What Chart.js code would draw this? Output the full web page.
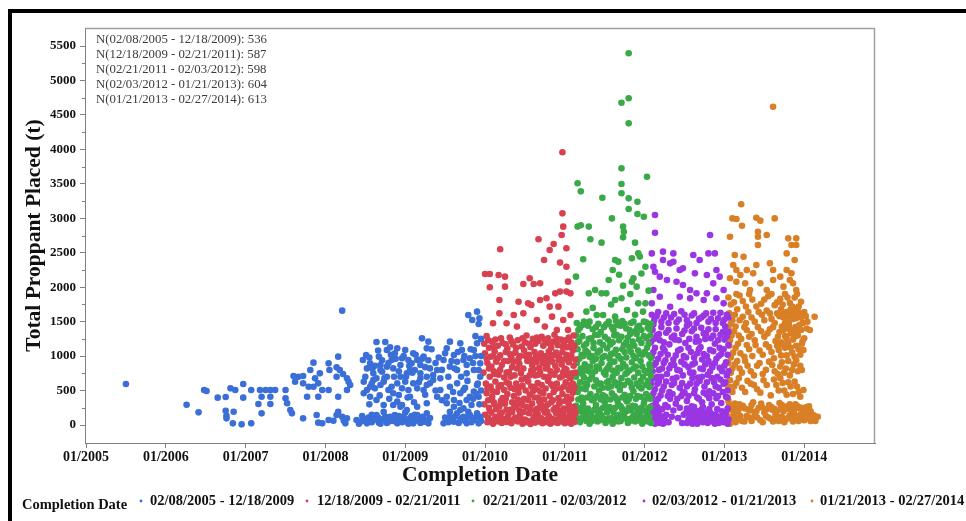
<!DOCTYPE html>
<html>
<head>
<meta charset="utf-8">
<title>Total Proppant Placed by Completion Date</title>
<script src="https://cdn.jsdelivr.net/npm/chart.js@4.4.1/dist/chart.umd.min.js"></script>
<style>
  html, body { margin: 0; padding: 0; background: #ffffff; }
  #wrap { position: relative; width: 966px; height: 521px; }
  canvas { display: block; }
</style>
</head>
<body>
<div id="wrap"><canvas id="chart" width="966" height="521"></canvas></div>
<script>
// Completion periods and well counts per period
const periodLabels = [
  '02/08/2005 - 12/18/2009',
  '12/18/2009 - 02/21/2011',
  '02/21/2011 - 02/03/2012',
  '02/03/2012 - 01/21/2013',
  '01/21/2013 - 02/27/2014'
];
const wellCounts = [536, 587, 598, 604, 613];
const periodColors = ['#3b6fd8', '#d8414f', '#3aa948', '#9a35e3', '#d97f26'];

// Axis ticks
const yearTicks = [2005, 2006, 2007, 2008, 2009, 2010, 2011, 2012, 2013, 2014];
const proppantTicks = [0, 500, 1000, 1500, 2000, 2500, 3000, 3500, 4000, 4500, 5000, 5500];

// [completion date as decimal year, total proppant placed (t)]
const wells2005to2009 = [
  [2005.50,595],[2006.26,295],[2006.41,184],[2006.48,508],[2006.51,493],[2006.65,397],[2006.75,406],
  [2006.75,208],[2006.76,135],[2006.76,97],[2006.84,24],[2006.95,10],[2007.07,24],[2006.85,193],
  [2006.81,532],[2006.87,508],[2006.97,595],[2006.97,397],[2007.07,508],[2007.18,508],[2007.25,508],
  [2007.31,508],[2007.37,508],[2007.20,411],[2007.31,411],[2007.16,305],[2007.31,305],[2007.20,169],
  [2007.50,508],[2007.50,387],[2007.52,315],[2007.56,218],[2007.58,169],[2007.60,711],[2007.66,701],
  [2007.72,711],[2007.62,629],[2007.72,605],[2007.81,798],[2007.85,905],[2007.79,556],[2007.85,556],
  [2007.77,411],[2007.87,677],[2007.93,750],[2007.91,605],[2007.96,508],[2008.04,895],[2008.05,798],
  [2008.14,837],[2008.16,992],[2008.18,798],[2008.14,701],[2008.22,740],[2008.27,677],[2008.29,629],
  [2008.31,580],[2007.91,411],[2008.04,508],[2008.16,411],[2008.27,508],[2007.72,97],[2007.89,145],
  [2007.91,34],[2007.96,24],[2008.04,72],[2008.10,63],[2008.14,145],[2008.16,193],[2008.21,121],
  [2008.23,63],[2008.25,24],[2008.27,97],[2008.21,1660],
  [2008.47,944],[2008.51,1016],[2008.56,895],[2008.59,822],[2008.64,1205],[2008.67,992],[2008.69,871],
  [2008.60,750],[2008.64,677],[2008.71,774],[2008.75,1205],[2008.77,1088],[2008.81,1127],[2008.83,944],
  [2008.87,1040],[2008.90,1113],[2008.94,871],[2008.96,968],[2009.00,1088],[2009.04,944],[2009.06,798],
  [2009.08,895],[2009.10,1040],[2009.15,944],[2009.19,871],[2009.21,1258],[2009.23,992],[2009.27,1113],
  [2009.29,1210],[2009.31,822],[2009.35,726],[2009.40,798],[2009.44,677],[2009.48,944],[2009.52,1113],
  [2009.56,1210],[2009.61,1016],[2009.65,919],[2009.69,1185],[2009.71,1088],[2009.73,944],[2009.77,871],
  [2009.81,968],[2009.86,1088],[2009.90,1185],[2009.92,798],[2009.94,895],[2009.94,701],
  [2008.48,629],[2008.52,508],[2008.56,556],[2008.60,653],[2008.62,532],[2008.69,580],[2008.73,629],
  [2008.77,701],[2008.79,508],[2008.83,556],[2008.85,460],[2008.90,605],[2008.92,435],[2008.96,532],
  [2009.00,629],[2009.04,508],[2009.06,411],[2009.10,605],[2009.15,532],[2009.19,677],[2009.23,508],
  [2009.27,580],[2009.31,605],[2009.40,411],[2009.44,508],[2009.52,411],[2009.56,556],[2009.61,363],
  [2009.65,605],[2009.69,460],[2009.73,508],[2009.77,363],[2009.81,411],[2009.86,484],[2009.90,580],
  [2009.92,411],[2008.48,460],[2008.56,411],[2008.64,363],[2008.73,290],[2008.85,290],[2008.94,266],
  [2009.02,218],[2009.15,266],[2009.27,315],[2009.52,315],[2009.61,266],[2009.73,242],[2009.83,290],
  [2008.52,822],[2008.69,798],[2008.77,847],[2008.85,822],[2008.94,701],[2009.02,750],[2009.12,798],
  [2009.19,750],[2009.27,701],[2009.35,653],[2009.56,847],[2009.65,798],[2009.77,750],[2009.86,798],
  [2008.39,72],[2008.44,48],[2008.48,82],[2008.52,24],[2008.56,63],[2008.60,97],[2008.64,145],
  [2008.67,34],[2008.71,72],[2008.75,121],[2008.79,48],[2008.83,97],[2008.87,145],[2008.90,24],
  [2008.94,72],[2008.96,290],[2008.98,121],[2009.02,48],[2009.06,97],[2009.10,24],[2009.15,145],
  [2009.17,72],[2009.21,121],[2009.25,48],[2009.27,169],[2009.29,24],[2009.48,24],[2009.52,72],
  [2009.56,121],[2009.61,48],[2009.65,169],[2009.69,72],[2009.73,121],[2009.77,24],[2009.81,145],
  [2009.86,72],[2009.90,169],[2009.94,121],[2009.92,24],[2009.56,193],[2009.69,218],[2009.79,193],
  [2008.58,150],[2008.73,190],[2008.88,60],[2009.00,180],[2009.12,150],[2009.20,40],
  [2009.79,1597],[2009.90,1645],[2009.93,1549],[2009.92,1466],[2009.84,1525],[2009.88,1290],[2009.95,1250],
  [2008.42,20],[2008.46,130],[2008.50,60],[2008.54,110],[2008.58,40],[2008.62,80],[2008.66,110],
  [2008.69,20],[2008.73,90],[2008.77,30],[2008.81,120],[2008.85,60],[2008.89,90],[2008.92,130],
  [2008.96,40],[2009.00,80],[2009.04,20],[2009.08,130],[2009.12,60],[2009.14,100],[2009.19,30],
  [2009.23,90],[2009.27,60],[2009.31,100],[2009.50,110],[2009.54,40],[2009.58,90],[2009.63,130],
  [2009.67,30],[2009.71,100],[2009.75,60],[2009.79,120],[2009.83,40],[2009.88,110],[2009.95,60],
  [2008.50,700],[2008.55,980],[2008.58,600],[2008.62,860],[2008.66,1080],[2008.71,940],[2008.74,680],
  [2008.79,900],[2008.82,1020],[2008.86,700],[2008.88,960],[2008.92,780],[2008.98,1000],[2009.01,700],
  [2009.05,860],[2009.09,760],[2009.13,1020],[2009.17,620],[2009.21,960],[2009.25,840],[2009.29,940],
  [2009.33,1100],[2009.38,900],[2009.42,980],[2009.46,800],[2009.50,1040],[2009.54,700],[2009.58,930],
  [2009.62,820],[2009.66,1060],[2009.70,700],[2009.74,1000],[2009.78,640],[2009.82,1100],[2009.85,900],
  [2009.88,1000],[2009.91,600],[2009.95,1000],[2009.95,500],[2009.89,450],
  [2008.55,300],[2008.68,430],[2008.80,380],[2008.90,340],[2009.03,400],[2009.11,330],[2009.25,440],
  [2009.38,500],[2009.46,360],[2009.60,480],[2009.68,320],[2009.75,540],[2009.85,380],[2009.93,300]
];

const wells2010 = [
  [2010.97,3958],[2010.97,3072],[2010.98,2879],[2010.96,2758],[2010.67,2695],[2010.81,2540],[2010.86,2628],
  [2011.02,2565],[2010.74,2395],[2010.94,2357],[2011.02,2298],[2010.00,2192],[2010.06,2192],[2010.17,2177],
  [2010.25,2153],[2010.06,2000],[2010.25,2008],[2010.18,1815],[2010.18,1621],[2010.56,2129],[2010.48,2047],
  [2010.61,2047],[2010.69,2057],[2010.54,1766],[2010.58,1742],[2010.69,1815],[2010.77,1839],[2010.88,1911],
  [2010.94,1936],[2011.02,1936],[2011.07,1911],[2011.04,2081],[2010.81,1718],[2010.92,1718],[2010.42,1790],
  [2010.36,1597],[2010.48,1621],[2010.27,1476],[2010.10,1476],[2010.40,1428],[2010.65,1524],[2010.84,1573],
  [2010.98,1524],[2011.07,1597],[2010.75,1428],[2010.90,1379],[2011.04,1379],[2010.19,2550],
  [2010.02,1290],[2010.13,1240],[2010.31,1270],[2010.52,1300],[2010.60,1250],[2010.71,1280],[2010.79,1260],
  [2010.87,1310],[2010.95,1240],[2011.05,1270],[2011.11,1300],
  [2009.99,1180],[2010.05,1120],[2010.09,1210],[2010.16,1150],[2010.22,1190],[2010.28,1110],[2010.35,1170],
  [2010.41,1230],[2010.46,1140],[2010.50,1200],[2010.57,1130],[2010.63,1180],[2010.67,1220],[2010.73,1150],
  [2010.77,1190],[2010.83,1120],[2010.86,1210],[2010.91,1160],[2010.99,1190],[2011.03,1130],[2011.08,1200],
  [2011.12,1150],
  [2010.00,1040],[2010.07,990],[2010.12,1070],[2010.19,1010],[2010.26,1060],[2010.33,980],[2010.38,1050],
  [2010.44,1000],[2010.49,1080],[2010.55,1020],[2010.62,1060],[2010.66,970],[2010.70,1040],[2010.76,1000],
  [2010.80,1070],[2010.85,1010],[2010.89,1050],[2010.93,980],[2010.97,1060],[2011.02,1020],[2011.06,960],
  [2011.10,1080],
  [2010.03,900],[2010.08,850],[2010.14,920],[2010.21,870],[2010.29,930],[2010.34,840],[2010.43,890],
  [2010.48,820],[2010.53,930],[2010.59,870],[2010.64,910],[2010.68,830],[2010.72,900],[2010.78,850],
  [2010.84,920],[2010.88,860],[2010.92,940],[2010.96,880],[2011.00,820],[2011.05,910],[2011.11,860],
  [2009.98,760],[2010.06,700],[2010.11,780],[2010.17,730],[2010.24,690],[2010.30,770],[2010.37,720],
  [2010.45,750],[2010.51,680],[2010.58,790],[2010.63,720],[2010.69,760],[2010.74,700],[2010.82,780],
  [2010.87,730],[2010.94,690],[2010.98,770],[2011.04,720],[2011.09,750],
  [2010.01,600],[2010.07,560],[2010.13,630],[2010.20,580],[2010.27,620],[2010.32,540],[2010.39,600],
  [2010.47,570],[2010.54,630],[2010.61,550],[2010.66,610],[2010.71,580],[2010.79,640],[2010.85,560],
  [2010.90,600],[2010.95,530],[2011.01,620],[2011.07,580],[2011.12,540],
  [2010.02,460],[2010.09,410],[2010.15,480],[2010.22,390],[2010.28,450],[2010.36,420],[2010.42,470],
  [2010.49,380],[2010.56,440],[2010.60,490],[2010.67,400],[2010.73,460],[2010.81,420],[2010.86,480],
  [2010.92,390],[2010.97,450],[2011.03,410],[2011.10,470],
  [2009.99,300],[2010.05,250],[2010.11,330],[2010.18,270],[2010.25,310],[2010.31,220],[2010.40,290],
  [2010.46,340],[2010.52,260],[2010.59,310],[2010.65,230],[2010.70,300],[2010.76,270],[2010.83,330],
  [2010.88,250],[2010.93,310],[2010.99,240],[2011.05,300],[2011.11,260],
  [2010.00,150],[2010.04,100],[2010.08,180],[2010.13,120],[2010.19,160],[2010.23,90],[2010.29,140],
  [2010.34,190],[2010.38,110],[2010.44,150],[2010.50,80],[2010.55,170],[2010.61,120],[2010.66,160],
  [2010.70,100],[2010.75,180],[2010.80,130],[2010.84,90],[2010.89,170],[2010.94,120],[2010.98,160],
  [2011.02,100],[2011.06,150],[2011.10,110],[2011.13,170],
  [2010.03,40],[2010.10,20],[2010.16,50],[2010.21,30],[2010.27,45],[2010.33,25],[2010.41,50],
  [2010.47,20],[2010.53,40],[2010.57,15],[2010.63,35],[2010.68,50],[2010.72,25],[2010.78,40],
  [2010.82,20],[2010.87,45],[2010.91,30],[2010.96,50],[2011.00,25],[2011.04,40],[2011.08,20],[2011.12,45],
  [2010.04,1230],[2010.11,1140],[2010.20,1260],[2010.26,1170],[2010.33,1220],[2010.39,1120],[2010.47,1260],
  [2010.55,1180],[2010.65,1270],[2010.75,1230],[2010.82,1180],[2010.90,1250],[2010.97,1140],[2011.01,1230],
  [2011.09,1130],
  [2010.02,960],[2010.10,1000],[2010.16,970],[2010.24,930],[2010.31,1030],[2010.36,920],[2010.42,960],
  [2010.51,1000],[2010.58,950],[2010.64,1000],[2010.71,960],[2010.78,930],[2010.83,990],[2010.91,1010],
  [2010.99,950],[2011.08,1010],[2011.13,950],
  [2010.05,820],[2010.12,740],[2010.19,800],[2010.27,760],[2010.32,700],[2010.40,820],[2010.46,660],
  [2010.56,720],[2010.61,810],[2010.67,730],[2010.76,820],[2010.80,700],[2010.90,800],[2010.97,710],
  [2011.02,800],[2011.07,680],[2011.13,760],
  [2010.03,530],[2010.10,490],[2010.17,550],[2010.24,510],[2010.30,600],[2010.37,520],[2010.44,550],
  [2010.51,500],[2010.58,560],[2010.64,520],[2010.69,490],[2010.76,530],[2010.83,590],[2010.88,520],
  [2010.99,560],[2011.05,510],[2011.10,600],
  [2010.04,360],[2010.12,300],[2010.20,350],[2010.26,380],[2010.34,330],[2010.41,370],[2010.47,290],
  [2010.54,360],[2010.62,400],[2010.68,340],[2010.74,370],[2010.79,300],[2010.85,360],[2010.95,340],
  [2011.01,350],[2011.08,380],
  [2010.06,200],[2010.14,230],[2010.21,180],[2010.27,220],[2010.36,250],[2010.43,210],[2010.48,190],
  [2010.57,240],[2010.63,200],[2010.68,250],[2010.73,220],[2010.78,190],[2010.86,220],[2010.91,230],
  [2010.96,200],[2011.04,220],[2011.09,200],[2011.12,230],
  [2010.07,70],[2010.12,60],[2010.18,90],[2010.25,70],[2010.31,60],[2010.36,80],[2010.45,90],
  [2010.52,60],[2010.59,70],[2010.65,90],[2010.71,70],[2010.77,80],[2010.85,60],[2010.89,80],
  [2010.93,70],[2010.99,90],[2011.06,70],[2011.11,80]
];

const wells2011 = [
  [2011.80,5395],[2011.71,4678],[2011.80,4742],[2011.80,4378],[2011.71,3725],[2012.03,3604],[2011.16,3508],
  [2011.20,3391],[2011.71,3498],[2011.47,3299],[2011.71,3363],[2011.80,3290],[2011.91,3241],[2011.80,3135],
  [2011.91,3062],[2011.99,3023],[2011.59,2999],[2011.16,2880],[2011.20,2900],[2011.30,2880],[2011.73,2879],
  [2011.32,2695],[2011.46,2647],[2011.73,2724],[2011.74,2806],[2011.88,2647],[2011.23,2405],[2011.63,2395],
  [2011.67,2371],[2011.84,2419],[2011.92,2492],[2011.94,2444],[2012.01,2298],[2011.14,2153],[2011.30,1911],
  [2011.38,1960],[2011.46,1911],[2011.52,1911],[2011.63,1815],[2011.71,1839],[2011.84,2081],[2011.90,2008],
  [2011.86,2130],[2011.73,2023],[2011.55,2105],[2011.27,1645],[2011.40,1597],[2011.48,1597],[2011.63,1573],
  [2011.78,1670],[2011.92,1766],[2012.01,1766],[2011.98,1645],[2011.60,2250],[2011.68,2180],[2011.96,2200],
  [2011.82,1900],[2012.05,1950],[2011.35,1700],[2011.58,1750],[2011.88,1600],
  [2011.15,1480],[2011.19,1410],[2011.24,1500],[2011.29,1440],[2011.35,1390],[2011.42,1470],[2011.49,1420],
  [2011.55,1500],[2011.61,1380],[2011.66,1450],[2011.72,1510],[2011.77,1400],[2011.83,1480],[2011.88,1360],
  [2011.93,1440],[2011.99,1500],[2012.04,1410],[2012.08,1470],
  [2011.14,1300],[2011.18,1220],[2011.22,1290],[2011.27,1180],[2011.33,1260],[2011.38,1310],[2011.44,1200],
  [2011.50,1280],[2011.57,1170],[2011.62,1300],[2011.68,1230],[2011.74,1160],[2011.79,1270],[2011.85,1210],
  [2011.90,1320],[2011.96,1190],[2012.02,1260],[2012.07,1300],
  [2011.16,1100],[2011.21,1020],[2011.26,1080],[2011.31,990],[2011.36,1120],[2011.41,1050],[2011.47,980],
  [2011.53,1110],[2011.58,1030],[2011.64,1090],[2011.70,960],[2011.75,1060],[2011.81,1130],[2011.86,1000],
  [2011.92,1080],[2011.97,1020],[2012.03,1120],[2012.08,970],
  [2011.15,900],[2011.20,820],[2011.25,880],[2011.30,780],[2011.35,930],[2011.40,850],[2011.46,900],
  [2011.52,800],[2011.56,870],[2011.62,920],[2011.67,830],[2011.73,890],[2011.78,760],[2011.84,910],
  [2011.89,850],[2011.95,930],[2012.00,790],[2012.06,880],
  [2011.14,700],[2011.19,620],[2011.24,690],[2011.28,580],[2011.34,720],[2011.39,650],[2011.45,600],
  [2011.51,730],[2011.55,640],[2011.60,700],[2011.66,570],[2011.71,680],[2011.76,740],[2011.82,610],
  [2011.87,690],[2011.93,560],[2011.98,700],[2012.04,640],[2012.08,720],
  [2011.16,480],[2011.21,400],[2011.26,520],[2011.32,450],[2011.37,380],[2011.43,500],[2011.48,430],
  [2011.54,540],[2011.59,460],[2011.64,390],[2011.69,510],[2011.75,440],[2011.80,370],[2011.86,490],
  [2011.91,420],[2011.96,530],[2012.02,450],[2012.07,380],
  [2011.14,280],[2011.18,200],[2011.23,310],[2011.29,240],[2011.33,170],[2011.39,290],[2011.44,220],
  [2011.50,330],[2011.56,260],[2011.61,190],[2011.67,300],[2011.72,230],[2011.78,340],[2011.83,210],
  [2011.88,270],[2011.94,180],[2011.99,310],[2012.05,240],
  [2011.15,100],[2011.19,40],[2011.23,130],[2011.27,60],[2011.31,20],[2011.36,110],[2011.41,50],
  [2011.46,140],[2011.51,30],[2011.55,90],[2011.60,20],[2011.65,120],[2011.70,60],[2011.74,140],
  [2011.79,30],[2011.84,100],[2011.88,50],[2011.93,130],[2011.97,20],[2012.01,80],[2012.06,120],
  [2012.08,30],[2011.53,180],[2011.68,150],[2011.77,200],[2011.90,160],[2012.00,210],[2011.25,180],
  [2011.17,1380],[2011.22,1450],[2011.31,1500],[2011.39,1420],[2011.45,1350],[2011.52,1460],[2011.59,1420],
  [2011.64,1510],[2011.70,1440],[2011.75,1470],[2011.81,1380],[2011.86,1500],[2011.91,1420],[2011.96,1380],
  [2012.02,1490],[2012.06,1390],
  [2011.16,1200],[2011.24,1150],[2011.30,1250],[2011.36,1190],[2011.42,1310],[2011.48,1160],[2011.54,1240],
  [2011.60,1200],[2011.65,1310],[2011.71,1280],[2011.77,1200],[2011.82,1320],[2011.87,1150],[2011.93,1240],
  [2011.99,1290],[2012.05,1180],
  [2011.18,960],[2011.23,1000],[2011.29,1050],[2011.34,1000],[2011.39,960],[2011.44,1080],[2011.50,1000],
  [2011.56,960],[2011.61,1040],[2011.67,1000],[2011.72,1100],[2011.77,980],[2011.83,1060],[2011.89,970],
  [2011.94,1030],[2012.00,1060],[2012.05,1010],
  [2011.17,760],[2011.22,740],[2011.27,800],[2011.32,850],[2011.38,780],[2011.43,820],[2011.49,760],
  [2011.54,830],[2011.60,790],[2011.65,760],[2011.70,820],[2011.76,850],[2011.81,790],[2011.86,820],
  [2011.92,760],[2011.97,850],[2012.03,760],[2012.07,820],
  [2011.15,560],[2011.21,530],[2011.26,600],[2011.31,660],[2011.37,560],[2011.42,600],[2011.47,540],
  [2011.53,620],[2011.58,560],[2011.63,620],[2011.68,600],[2011.74,580],[2011.79,640],[2011.84,540],
  [2011.90,600],[2011.95,640],[2012.01,580],[2012.06,550],
  [2011.17,370],[2011.22,350],[2011.28,400],[2011.34,360],[2011.40,420],[2011.45,370],[2011.51,410],
  [2011.57,370],[2011.62,420],[2011.66,350],[2011.72,400],[2011.77,360],[2011.82,420],[2011.89,380],
  [2011.95,410],[2012.00,360],[2012.05,420],
  [2011.16,200],[2011.21,250],[2011.26,230],[2011.30,150],[2011.37,220],[2011.42,160],[2011.48,250],
  [2011.53,260],[2011.58,230],[2011.63,250],[2011.70,270],[2011.75,200],[2011.80,250],[2011.85,280],
  [2011.91,230],[2011.96,250],[2012.03,170],[2012.07,260],
  [2011.17,80],[2011.21,100],[2011.29,110],[2011.34,60],[2011.38,90],[2011.44,70],[2011.49,90],
  [2011.53,60],[2011.58,100],[2011.62,70],[2011.67,50],[2011.72,100],[2011.77,90],[2011.81,60],
  [2011.86,130],[2011.91,80],[2011.95,60],[2011.99,110],[2012.04,50]
];

const wells2012 = [
  [2012.13,3048],[2012.13,2791],[2012.82,2758],[2012.09,2491],[2012.23,2516],[2012.36,2491],[2012.23,2395],
  [2012.32,2346],[2012.36,2370],[2012.44,2250],[2012.48,2274],[2012.61,2467],[2012.69,2395],[2012.80,2491],
  [2012.88,2491],[2012.90,2250],[2012.78,2177],[2012.63,2201],[2012.11,2298],[2012.13,2225],[2012.19,2153],
  [2012.28,2105],[2012.40,2080],[2012.48,2032],[2012.57,1959],[2012.65,1911],[2012.78,1911],[2012.86,2056],
  [2012.94,2153],[2012.99,1959],[2012.11,1959],[2012.19,1862],[2012.32,1717],[2012.44,1862],[2012.57,1838],
  [2012.74,1814],[2012.90,1838],[2012.99,1766],[2012.09,1766],
  [2012.09,1600],[2012.12,1520],[2012.17,1640],[2012.24,1560],[2012.30,1480],[2012.37,1610],[2012.43,1530],
  [2012.50,1600],[2012.56,1470],[2012.62,1620],[2012.68,1540],[2012.74,1590],[2012.80,1500],[2012.86,1630],
  [2012.92,1550],[2012.98,1480],[2013.03,1600],
  [2012.10,1380],[2012.15,1300],[2012.21,1420],[2012.27,1340],[2012.34,1270],[2012.40,1400],[2012.47,1320],
  [2012.53,1440],[2012.59,1360],[2012.65,1280],[2012.71,1410],[2012.77,1330],[2012.83,1260],[2012.89,1390],
  [2012.95,1310],[2013.01,1430],[2013.05,1350],
  [2012.08,1200],[2012.13,1120],[2012.19,1230],[2012.25,1080],[2012.31,1170],[2012.38,1240],[2012.45,1100],
  [2012.51,1190],[2012.58,1060],[2012.64,1210],[2012.70,1130],[2012.76,1250],[2012.82,1090],[2012.88,1180],
  [2012.94,1120],[2013.00,1240],[2013.05,1160],
  [2012.09,990],[2012.14,900],[2012.20,1030],[2012.26,940],[2012.33,870],[2012.39,1010],[2012.46,920],
  [2012.52,980],[2012.60,880],[2012.66,1040],[2012.72,950],[2012.78,1000],[2012.84,870],[2012.90,960],
  [2012.96,1030],[2013.02,910],
  [2012.10,780],[2012.16,700],[2012.22,820],[2012.28,740],[2012.35,670],[2012.41,800],[2012.48,720],
  [2012.55,840],[2012.61,760],[2012.67,690],[2012.73,810],[2012.79,730],[2012.85,840],[2012.91,700],
  [2012.97,780],[2013.03,720],
  [2012.08,600],[2012.13,520],[2012.18,630],[2012.24,560],[2012.31,480],[2012.37,610],[2012.44,540],
  [2012.50,470],[2012.57,600],[2012.63,520],[2012.69,640],[2012.75,560],[2012.81,490],[2012.87,620],
  [2012.93,540],[2012.99,600],[2013.04,500],
  [2012.09,400],[2012.14,330],[2012.20,430],[2012.26,290],[2012.32,380],[2012.39,310],[2012.46,420],
  [2012.53,350],[2012.59,270],[2012.66,400],[2012.72,330],[2012.78,440],[2012.84,300],[2012.90,390],
  [2012.96,320],[2013.02,410],
  [2012.08,200],[2012.11,120],[2012.14,60],[2012.17,180],[2012.20,90],[2012.23,20],[2012.27,150],
  [2012.30,40],[2012.36,210],[2012.42,100],[2012.47,30],[2012.51,170],[2012.55,80],[2012.60,20],
  [2012.64,140],[2012.68,60],[2012.71,220],[2012.75,110],[2012.79,30],[2012.83,170],[2012.87,70],
  [2012.91,230],[2012.95,120],[2012.99,40],[2013.02,180],[2013.05,80],[2012.12,230],[2012.25,110],
  [2012.58,190],[2012.88,20],
  [2012.11,1460],[2012.15,1580],[2012.21,1500],[2012.27,1620],[2012.33,1560],[2012.40,1490],[2012.46,1650],
  [2012.53,1520],[2012.59,1590],[2012.65,1480],[2012.71,1560],[2012.77,1620],[2012.83,1540],[2012.89,1480],
  [2012.95,1630],[2013.00,1530],[2013.05,1560],
  [2012.12,1250],[2012.18,1320],[2012.24,1200],[2012.30,1380],[2012.37,1300],[2012.43,1230],[2012.50,1370],
  [2012.56,1250],[2012.62,1400],[2012.68,1220],[2012.74,1330],[2012.80,1390],[2012.86,1300],[2012.92,1230],
  [2012.98,1350],[2013.03,1290],
  [2012.11,1060],[2012.17,960],[2012.23,1120],[2012.29,1020],[2012.36,950],[2012.42,1080],[2012.49,1000],
  [2012.55,1120],[2012.62,980],[2012.68,1100],[2012.74,1030],[2012.80,930],[2012.86,1070],[2012.93,1000],
  [2012.99,1100],[2013.04,1020],
  [2012.12,870],[2012.18,800],[2012.24,900],[2012.31,820],[2012.37,870],[2012.44,790],[2012.50,880],
  [2012.57,760],[2012.63,900],[2012.70,820],[2012.76,880],[2012.82,780],[2012.88,900],[2012.94,830],
  [2013.00,860],[2013.05,780],
  [2012.11,680],[2012.16,600],[2012.21,700],[2012.27,630],[2012.34,580],[2012.40,690],[2012.47,610],
  [2012.53,560],[2012.60,680],[2012.65,600],[2012.72,700],[2012.78,620],[2012.84,680],[2012.89,560],
  [2012.95,660],[2013.01,620],
  [2012.11,460],[2012.17,380],[2012.22,500],[2012.29,420],[2012.35,450],[2012.41,380],[2012.48,480],
  [2012.55,420],[2012.62,460],[2012.68,380],[2012.74,470],[2012.81,390],[2012.86,460],[2012.92,420],
  [2012.98,480],[2013.04,400],
  [2012.10,280],[2012.13,160],[2012.16,260],[2012.19,140],[2012.22,230],[2012.29,260],[2012.34,120],
  [2012.44,250],[2012.49,150],[2012.53,240],[2012.57,120],[2012.62,260],[2012.66,200],[2012.70,140],
  [2012.73,260],[2012.77,180],[2012.81,230],[2012.85,110],[2012.89,150],[2012.93,60],[2012.97,200],
  [2013.01,120],[2013.04,240],
  [2012.09,60],[2012.13,20],[2012.16,110],[2012.19,30],[2012.22,70],[2012.26,40],[2012.53,30],
  [2012.57,60],[2012.62,90],[2012.66,20],[2012.70,80],[2012.73,40],[2012.77,70],[2012.81,100],
  [2012.85,50],[2012.89,90],[2012.93,30],[2012.97,80],[2013.01,50],[2013.04,20]
];

const wells2013 = [
  [2013.61,4620],[2013.21,3203],[2013.10,2999],[2013.15,2990],[2013.40,3009],[2013.45,2966],[2013.63,2999],
  [2013.07,2733],[2013.22,2893],[2013.42,2806],[2013.42,2733],[2013.42,2612],[2013.53,2758],[2013.80,2709],
  [2013.90,2709],[2013.84,2612],[2013.90,2612],[2013.78,2491],[2013.88,2395],[2013.13,2467],[2013.24,2443],
  [2013.11,2322],[2013.15,2250],[2013.20,2177],[2013.28,2250],[2013.36,2201],[2013.40,2322],[2013.57,2346],
  [2013.61,2250],[2013.07,2129],[2013.15,2080],[2013.26,2056],[2013.32,1959],[2013.45,2056],[2013.53,1959],
  [2013.61,2105],[2013.70,2153],[2013.74,2008],[2013.82,2105],[2013.86,2056],[2013.90,1959],[2013.78,2250],
  [2013.84,2201],[2014.13,1572],[2014.07,1379],[2013.99,1089],[2013.97,798],[2013.99,508],[2013.95,411],
  [2013.05,1850],[2013.12,1780],[2013.19,1880],[2013.27,1720],[2013.35,1820],[2013.46,1760],[2013.55,1870],
  [2013.63,1740],[2013.70,1830],[2013.76,1900],[2013.82,1770],[2013.88,1850],[2013.93,1720],
  [2013.06,1620],[2013.10,1520],[2013.16,1680],[2013.23,1570],[2013.30,1640],[2013.38,1500],[2013.47,1600],
  [2013.53,1660],[2013.59,1540],[2013.66,1620],[2013.71,1680],[2013.74,1560],[2013.78,1640],[2013.81,1500],
  [2013.84,1600],[2013.87,1670],[2013.90,1550],[2013.94,1620],[2013.98,1480],[2014.02,1580],
  [2013.05,1400],[2013.09,1300],[2013.14,1430],[2013.21,1250],[2013.28,1380],[2013.34,1320],[2013.42,1420],
  [2013.50,1280],[2013.57,1390],[2013.64,1220],[2013.69,1350],[2013.72,1430],[2013.76,1290],[2013.79,1400],
  [2013.83,1330],[2013.86,1240],[2013.89,1420],[2013.92,1300],[2013.96,1380],[2014.00,1260],
  [2013.06,1150],[2013.11,1050],[2013.17,1180],[2013.25,990],[2013.31,1100],[2013.39,1160],[2013.48,1020],
  [2013.56,1130],[2013.62,970],[2013.68,1090],[2013.73,1170],[2013.78,1010],[2013.83,1120],[2013.88,990],
  [2013.93,1100],[2013.97,1180],
  [2013.05,900],[2013.10,820],[2013.16,930],[2013.22,760],[2013.29,860],[2013.37,720],[2013.44,900],
  [2013.52,800],[2013.60,870],[2013.67,740],[2013.72,910],[2013.77,820],[2013.82,720],[2013.87,880],
  [2013.92,780],
  [2013.07,650],[2013.12,560],[2013.18,680],[2013.26,480],[2013.33,600],[2013.41,520],[2013.49,650],
  [2013.58,430],[2013.65,580],[2013.70,680],[2013.75,500],[2013.80,620],[2013.86,450],[2013.91,560],
  [2013.05,350],[2013.09,260],[2013.13,310],[2013.17,200],[2013.23,280],[2013.30,220],[2013.36,330],
  [2013.43,250],[2013.50,180],[2013.56,290],[2013.63,230],[2013.69,320],[2013.74,200],[2013.79,270],
  [2013.84,210],[2013.89,300],[2013.94,240],[2013.99,190],[2014.03,260],[2014.08,200],
  [2013.07,230],[2013.20,250],[2013.33,210],[2013.47,260],[2013.60,220],[2013.71,250],[2013.86,230],
  [2014.01,220],
  [2013.05,120],[2013.08,60],[2013.12,140],[2013.16,80],[2013.20,130],[2013.25,50],[2013.31,110],
  [2013.38,140],[2013.45,70],[2013.52,130],[2013.58,90],[2013.64,150],[2013.68,60],[2013.72,120],
  [2013.77,80],[2013.82,140],[2013.86,50],[2013.91,110],[2013.95,150],[2014.00,70],[2014.05,130],
  [2014.10,100],[2014.17,120],[2014.14,60],
  [2013.08,1750],[2013.15,1900],[2013.23,1800],[2013.31,1900],[2013.40,1720],[2013.50,1820],[2013.59,1900],
  [2013.66,1780],[2013.73,1750],[2013.79,1850],[2013.85,1720],[2013.91,1900],[2013.96,1790],
  [2013.08,1470],[2013.13,1600],[2013.19,1520],[2013.27,1480],[2013.34,1560],[2013.43,1640],[2013.50,1520],
  [2013.57,1620],[2013.63,1480],[2013.69,1580],[2013.73,1620],[2013.76,1480],[2013.80,1580],[2013.83,1680],
  [2013.86,1540],[2013.89,1620],[2013.92,1700],[2013.96,1560],[2014.00,1640],[2014.04,1500],
  [2013.07,1230],[2013.12,1360],[2013.18,1300],[2013.25,1420],[2013.31,1280],[2013.38,1230],[2013.46,1360],
  [2013.54,1330],[2013.61,1420],[2013.67,1280],[2013.71,1200],[2013.74,1380],[2013.78,1250],[2013.81,1440],
  [2013.85,1370],[2013.88,1280],[2013.91,1350],[2013.94,1450],[2013.98,1220],[2014.03,1400],
  [2013.08,980],[2013.14,1120],[2013.20,1040],[2013.28,1160],[2013.35,1000],[2013.44,1080],[2013.52,1170],
  [2013.59,1060],[2013.66,1150],[2013.71,1010],[2013.76,1120],[2013.80,1190],[2013.85,1050],[2013.90,1150],
  [2013.95,1020],
  [2013.08,760],[2013.13,880],[2013.19,820],[2013.26,930],[2013.33,780],[2013.41,860],[2013.48,740],
  [2013.56,920],[2013.63,780],[2013.70,850],[2013.75,760],[2013.80,930],[2013.85,800],[2013.90,940],
  [2013.95,860],
  [2013.05,560],[2013.10,480],[2013.15,610],[2013.22,540],[2013.29,640],[2013.37,580],[2013.45,470],
  [2013.53,580],[2013.62,660],[2013.68,500],[2013.73,610],[2013.78,440],[2013.83,560],[2013.88,630],
  [2013.93,480],
  [2013.06,290],[2013.11,200],[2013.15,270],[2013.19,300],[2013.26,240],[2013.34,290],[2013.40,200],
  [2013.46,310],[2013.53,230],[2013.59,260],[2013.66,200],[2013.72,290],[2013.77,230],[2013.82,300],
  [2013.87,200],[2013.92,270],[2013.97,250],[2014.02,180],[2014.06,270],
  [2013.07,20],[2013.10,100],[2013.14,40],[2013.18,100],[2013.22,60],[2013.28,130],[2013.34,60],
  [2013.41,110],[2013.48,40],[2013.55,110],[2013.61,50],[2013.66,120],[2013.70,90],[2013.75,40],
  [2013.80,110],[2013.84,90],[2013.88,140],[2013.93,60],[2013.97,120],[2014.02,100],[2014.08,60],
  [2014.12,140]
];

const periodSeries = [wells2005to2009, wells2010, wells2011, wells2012, wells2013];

const SERIF = '"Liberation Serif", "Times New Roman", "DejaVu Serif", serif';

// Frame, minor ticks, period counts, bottom legend and outer border
const decorations = {
  id: 'decorations',
  afterDraw(chart) {
    const ctx = chart.ctx;
    const area = chart.chartArea;
    const yScale = chart.scales.y;
    ctx.save();

    // plot frame: top and right edges
    ctx.strokeStyle = '#a0a0a0';
    ctx.lineWidth = 1.5;
    ctx.beginPath();
    ctx.moveTo(area.left, area.top + 0.5);
    ctx.lineTo(area.right - 0.5, area.top + 0.5);
    ctx.lineTo(area.right - 0.5, area.bottom);
    ctx.stroke();

    // minor ticks on the value axis
    ctx.strokeStyle = '#808080';
    ctx.lineWidth = 1;
    for (let v = 250; v < 5500; v += 500) {
      const py = Math.round(yScale.getPixelForValue(v)) + 0.5;
      ctx.beginPath();
      ctx.moveTo(area.left - 3, py);
      ctx.lineTo(area.left, py);
      ctx.stroke();
    }

    // well counts per period
    ctx.fillStyle = '#3c3c3c';
    ctx.font = '12.8px ' + SERIF;
    ctx.textAlign = 'left';
    ctx.textBaseline = 'middle';
    periodLabels.forEach((lab, i) => {
      ctx.fillText('N(' + lab + '): ' + wellCounts[i], 96, 39.5 + i * 15.1);
    });

    // bottom legend
    ctx.fillStyle = '#111111';
    ctx.font = 'bold 14.5px ' + SERIF;
    ctx.fillText('Completion Date', 22, 505);
    const markerX = [141, 307, 473, 644, 812];
    const textX = [150, 317, 483, 652, 820];
    periodLabels.forEach((lab, i) => {
      ctx.fillStyle = periodColors[i];
      ctx.beginPath();
      ctx.arc(markerX[i], 501, 1.4, 0, Math.PI * 2);
      ctx.fill();
      ctx.fillStyle = '#111111';
      ctx.fillText(lab, textX[i], 501.5);
    });

    // outer border
    ctx.strokeStyle = '#000000';
    ctx.lineWidth = 4;
    ctx.beginPath();
    ctx.moveTo(10, chart.height + 5);
    ctx.lineTo(10, 11);
    ctx.lineTo(chart.width + 5, 11);
    ctx.stroke();

    ctx.restore();
  }
};

new Chart(document.getElementById('chart'), {
  type: 'scatter',
  data: {
    datasets: periodSeries.map((series, i) => ({
      label: periodLabels[i],
      data: series.map(p => ({ x: p[0], y: p[1] })),
      backgroundColor: periodColors[i],
      borderWidth: 0,
      pointRadius: 3.3,
      pointHoverRadius: 3.3
    }))
  },
  options: {
    responsive: false,
    animation: false,
    devicePixelRatio: 1,
    layout: { padding: { left: 13, right: 91, top: 28, bottom: 33 } },
    plugins: {
      legend: { display: false },
      tooltip: { enabled: false },
      title: { display: false }
    },
    scales: {
      x: {
        type: 'linear',
        min: 2004.987,
        max: 2014.887,
        afterFit: s => { s.height = 45; },
        afterBuildTicks: s => { s.ticks = yearTicks.map(v => ({ value: v })); },
        ticks: {
          autoSkip: false,
          maxRotation: 0,
          padding: 1,
          color: '#111111',
          font: { family: SERIF, size: 14, weight: 'bold' },
          callback: v => '01/' + v
        },
        grid: { drawOnChartArea: false, drawTicks: true, tickLength: 5, color: '#808080' },
        border: { color: '#808080', width: 1 },
        title: {
          display: true,
          text: 'Completion Date',
          color: '#111111',
          font: { family: SERIF, size: 21.5, weight: 'bold' },
          padding: { top: 0, bottom: 0 }
        }
      },
      y: {
        type: 'linear',
        min: -261,
        max: 5762,
        afterFit: s => { s.width = 72; },
        afterBuildTicks: s => { s.ticks = proppantTicks.map(v => ({ value: v })); },
        ticks: {
          autoSkip: false,
          padding: 4,
          color: '#111111',
          font: { family: SERIF, size: 13, weight: 'bold' },
          callback: v => String(v)
        },
        grid: { drawOnChartArea: false, drawTicks: true, tickLength: 5, color: '#808080' },
        border: { color: '#808080', width: 1 },
        title: {
          display: true,
          text: 'Total Proppant Placed (t)',
          color: '#111111',
          font: { family: SERIF, size: 21.5, weight: 'bold' },
          padding: { top: 9, bottom: 0 }
        }
      }
    }
  },
  plugins: [decorations]
});
</script>
</body>
</html>
